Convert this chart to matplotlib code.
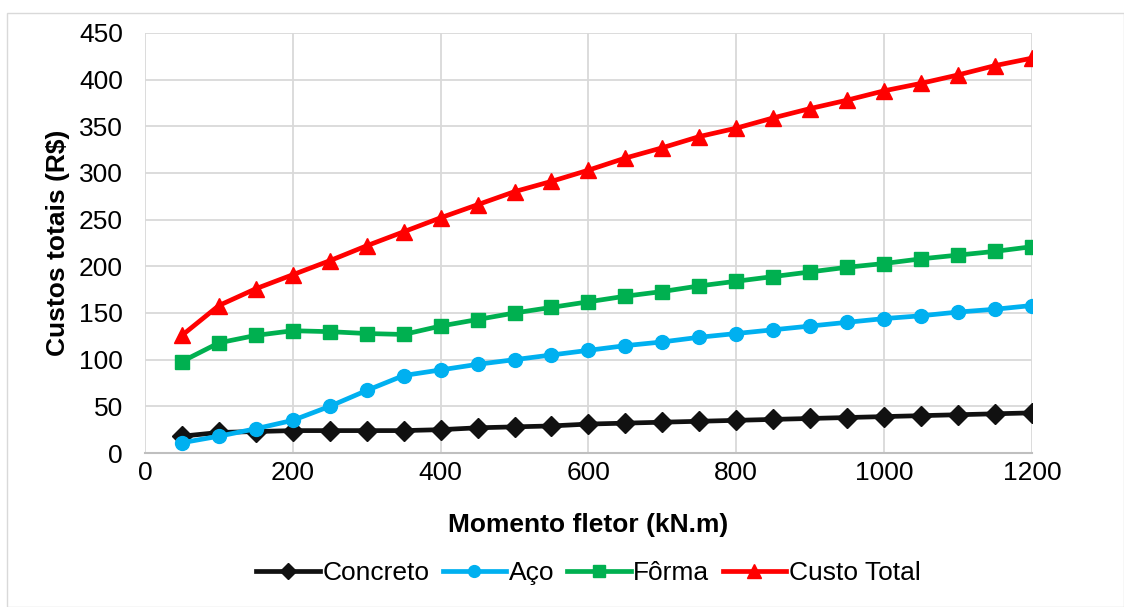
import matplotlib
matplotlib.use('agg')
import matplotlib.pyplot as plt
from matplotlib.patches import Rectangle

plt.rcParams['font.family'] = ['Liberation Sans', 'DejaVu Sans']

momento = [50, 100, 150, 200, 250, 300, 350, 400, 450, 500, 550, 600,
           650, 700, 750, 800, 850, 900, 950, 1000, 1050, 1100, 1150, 1200]

concreto = [18, 22, 23, 24, 24, 24, 24, 25, 27, 28, 29, 31,
            32, 33, 34, 35, 36, 37, 38, 39, 40, 41, 42, 43]
aco = [11, 18, 26, 35, 50, 67, 83, 89, 95, 100, 105, 110,
       115, 119, 124, 128, 132, 136, 140, 144, 147, 151, 154, 158]
forma = [98, 118, 126, 131, 130, 128, 127, 136, 143, 150, 156, 162,
         168, 173, 179, 184, 189, 194, 199, 203, 208, 212, 216, 221]
total = [126, 158, 176, 191, 206, 222, 237, 252, 266, 280, 291, 303,
         316, 327, 339, 348, 359, 369, 378, 388, 396, 405, 415, 423]

fig = plt.figure(figsize=(11.24, 6.07), dpi=100)
ax = fig.add_axes([0.129, 0.2537, 0.789, 0.692])

# borda do grafico
fig.patches.append(Rectangle((7 / 1124, 0), 1 - 7 / 1124, 1 - 13 / 607,
                             transform=fig.transFigure, fill=False,
                             edgecolor='#D9D9D9', linewidth=1))

ax.plot(momento, concreto, color='#111111', lw=3.4, marker='D', ms=10, label='Concreto')
ax.plot(momento, aco, color='#00B0F0', lw=3.4, marker='o', ms=10, label='Aço')
ax.plot(momento, forma, color='#00B050', lw=3.4, marker='s', ms=10, label='Fôrma')
ax.plot(momento, total, color='#FF0000', lw=3.4, marker='^', ms=12, label='Custo Total')

ax.set_xlim(0, 1200)
ax.set_ylim(0, 450)
ax.set_xticks(range(0, 1201, 200))
ax.set_yticks(range(0, 451, 50))
ax.grid(True, color='#D9D9D9', lw=1.3)
ax.set_axisbelow(True)
for s in ['top', 'right', 'left']:
    ax.spines[s].set_visible(False)
ax.spines['bottom'].set_color('#BFBFBF')
ax.spines['bottom'].set_linewidth(1.5)
ax.tick_params(axis='both', length=0, labelsize=19)
ax.tick_params(axis='x', pad=6)
ax.tick_params(axis='y', pad=16)

ax.set_xlabel('Momento fletor (kN.m)', fontsize=19, fontweight='bold', labelpad=20)
ax.set_ylabel('Custos totais (R$)', fontsize=19, fontweight='bold', labelpad=6)

ax.legend(loc='upper center', bbox_to_anchor=(0.5, -0.20), ncol=4, frameon=False,
          fontsize=19, handlelength=2.4, handletextpad=0.1, columnspacing=0.5,
          markerscale=0.85)

plt.savefig('out.png', dpi=100)
